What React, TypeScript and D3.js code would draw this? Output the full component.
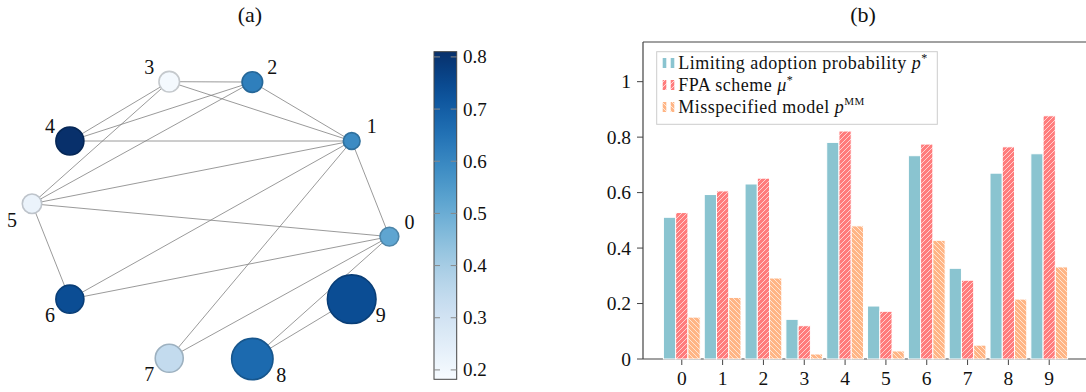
import React from 'react';
import * as d3 from 'd3';

// ---------- Panel (a): network ----------
const nodeIds = [0, 1, 2, 3, 4, 5, 6, 7, 8, 9];
const layoutX = [1.0, 0.789, 0.233, -0.232, -0.788, -1.0, -0.788, -0.232, 0.233, 0.789];
const layoutY = [-0.093, 0.442, 0.772, 0.774, 0.442, 0.091, -0.443, -0.774, -0.778, -0.443];
const nodeValue = [0.52, 0.59, 0.62, 0.19, 0.81, 0.22, 0.74, 0.34, 0.67, 0.74];
const nodeSize = [88, 70, 106, 106, 196, 94, 196, 196, 428, 590];
const edges: [number, number][] = [
  [3, 2], [3, 1], [2, 1], [3, 4], [3, 5], [2, 4], [2, 5], [4, 1], [5, 1],
  [5, 0], [5, 6], [1, 0], [1, 6], [1, 7], [0, 6], [0, 7], [0, 8], [9, 8],
];
const cbarDomain = [0.182, 0.81];
const cbarTicks = [0.2, 0.3, 0.4, 0.5, 0.6, 0.7, 0.8];

// ---------- Panel (b): bars ----------
const categories = [0, 1, 2, 3, 4, 5, 6, 7, 8, 9];
const pStar = [0.511, 0.593, 0.631, 0.143, 0.781, 0.191, 0.733, 0.327, 0.670, 0.740];
const muStar = [0.528, 0.606, 0.652, 0.120, 0.822, 0.172, 0.775, 0.284, 0.765, 0.877];
const pMM = [0.151, 0.222, 0.292, 0.018, 0.480, 0.029, 0.428, 0.050, 0.216, 0.332];
const yTicks = [0, 0.2, 0.4, 0.6, 0.8, 1];
const yTickLabels = ['0', '0.2', '0.4', '0.6', '0.8', '1'];

const FONT = '"Liberation Serif", "DejaVu Serif", serif';
const AX = '#444';

export default function App() {
  // network scales
  const nx = d3.scaleLinear().domain([-1, 1]).range([32, 389.4]);
  const ny = d3.scaleLinear().domain([-1, 1]).range([398.7, 41.3]);
  const rScale = d3.scaleSqrt().domain([0, 590]).range([0, 24.3]);
  const color = d3.scaleSequential(d3.interpolateBlues).domain(cbarDomain);

  // colorbar
  const cbX0 = 434, cbX1 = 456.7;
  const cbY = d3.scaleLinear().domain(cbarDomain).range([379.3, 51.7]);
  const gradStops = d3.range(0, 1.0001, 0.05);

  // bar scales
  const x = d3.scaleLinear().domain([-0.95, 9.95]).range([643, 1088]);
  const y = d3.scaleLinear().domain([0, 1.143]).range([359, 42]);
  const bw = x(0.3) - x(0);
  const series = [
    { name: 'p', values: pStar, fill: '#8ac4d0', off: -0.3 },
    { name: 'mu', values: muStar, fill: 'url(#hatchFwd)', off: 0 },
    { name: 'mm', values: pMM, fill: 'url(#hatchBack)', off: 0.3 },
  ];

  return (
    <svg width={1086} height={392} style={{ position: 'absolute', left: 0, top: 0 }} fontFamily={FONT}>
      <defs>
        <pattern id="hatchFwd" patternUnits="userSpaceOnUse" width={5} height={5}>
          <rect width={5} height={5} fill="#ff7c7c" />
          <path d="M-1,1 l2,-2 M0,5 l5,-5 M4,6 l2,-2" stroke="#fff" strokeWidth={0.65} />
        </pattern>
        <pattern id="hatchBack" patternUnits="userSpaceOnUse" width={5} height={5}>
          <rect width={5} height={5} fill="#ffb585" />
          <path d="M-1,4 l2,2 M0,0 l5,5 M4,-1 l2,2" stroke="#fff" strokeWidth={0.65} />
        </pattern>
        <linearGradient id="cbar" x1="0" y1="1" x2="0" y2="0">
          {gradStops.map((t) => (
            <stop key={t} offset={t} stopColor={d3.interpolateBlues(t)} />
          ))}
        </linearGradient>
      </defs>

      {/* titles */}
      <text x={250} y={22} fontSize={22} textAnchor="middle" fill="#111">(a)</text>
      <text x={863} y={22} fontSize={22} textAnchor="middle" fill="#111">(b)</text>

      {/* network edges */}
      <g stroke="#808080" strokeWidth={0.8}>
        {edges.map(([a, b], i) => (
          <line key={i} x1={nx(layoutX[a])} y1={ny(layoutY[a])} x2={nx(layoutX[b])} y2={ny(layoutY[b])} />
        ))}
      </g>
      {/* nodes */}
      <g>
        {nodeIds.map((id) => {
          const fill = color(nodeValue[id]);
          return (
            <circle key={id} cx={nx(layoutX[id])} cy={ny(layoutY[id])} r={rScale(nodeSize[id])}
              fill={fill} stroke={d3.color(fill)!.darker(0.6).formatHex()} strokeWidth={1.6} />
          );
        })}
      </g>
      {/* node labels */}
      <g fontSize={20} fill="#111" textAnchor="middle" dominantBaseline="central">
        {nodeIds.map((id) => {
          const r = rScale(nodeSize[id]);
          const dx = (layoutX[id] > 0 ? 1 : -1) * (r > 18 ? 29 : 20);
          const dy = id < 5 ? -15 : 16;
          return (
            <text key={id} x={nx(layoutX[id]) + dx} y={ny(layoutY[id]) + dy}>{id}</text>
          );
        })}
      </g>

      {/* colorbar */}
      <rect x={cbX0} y={cbY(cbarDomain[1])} width={cbX1 - cbX0} height={cbY(cbarDomain[0]) - cbY(cbarDomain[1])}
        fill="url(#cbar)" stroke={AX} strokeWidth={1} />
      <g stroke="#888" strokeWidth={1}>
        {cbarTicks.map((t) => (
          <g key={t}>
            <line x1={cbX0} x2={cbX0 + 6} y1={cbY(t)} y2={cbY(t)} />
            <line x1={cbX1 - 6} x2={cbX1} y1={cbY(t)} y2={cbY(t)} />
          </g>
        ))}
      </g>
      <g fontSize={19} fill="#111" dominantBaseline="central">
        {cbarTicks.map((t) => (
          <text key={t} x={463} y={cbY(t)}>{d3.format('.1f')(t)}</text>
        ))}
      </g>

      {/* bar chart axes */}
      <g stroke={AX} strokeWidth={1.2} fill="none">
        <line x1={643} x2={1086} y1={42} y2={42} />
        <line x1={643} x2={643} y1={42} y2={359} />
        <line x1={643} x2={1086} y1={359} y2={359} />
      </g>
      <g stroke={AX} strokeWidth={1}>
        {yTicks.map((t) => (
          <line key={t} x1={637} x2={643} y1={y(t)} y2={y(t)} />
        ))}
        {categories.map((c) => (
          <line key={c} x1={x(c)} x2={x(c)} y1={359} y2={365} />
        ))}
      </g>
      <g fontSize={19.5} fill="#111" textAnchor="end" dominantBaseline="central">
        {yTicks.map((t, i) => (
          <text key={t} x={631} y={y(t)}>{yTickLabels[i]}</text>
        ))}
      </g>
      <g fontSize={19.5} fill="#111" textAnchor="middle" dominantBaseline="central">
        {categories.map((c) => (
          <text key={c} x={x(c)} y={378}>{c}</text>
        ))}
      </g>

      {/* bars */}
      {series.map((s) => (
        <g key={s.name}>
          {categories.map((c, i) => (
            <rect key={c} x={x(c + s.off) - bw / 2} y={y(s.values[i])} width={bw}
              height={y(0) - y(s.values[i])} fill={s.fill} stroke="#fff" strokeWidth={1} />
          ))}
        </g>
      ))}

      {/* legend */}
      <rect x={656.7} y={51.7} width={280.6} height={72.6} fill="#fff" fillOpacity={0.85} stroke="#ccc" strokeWidth={1} />
      {series.map((s, i) => {
        const cy = 63 + i * 22;
        return (
          <g key={s.name}>
            <rect x={662.7} y={cy - 5} width={3.6} height={10} fill={s.fill} />
            <rect x={670.7} y={cy - 5} width={3.6} height={10} fill={s.fill} />
          </g>
        );
      })}
      <g fontSize={18} fill="#111" letterSpacing={0.5}>
        <text x={678.3} y={69}>
          Limiting adoption probability <tspan fontStyle="italic">p</tspan>
          <tspan fontSize={12} dy={-7}>*</tspan>
        </text>
        <text x={678.3} y={91}>
          FPA scheme <tspan fontStyle="italic">μ</tspan>
          <tspan fontSize={12} dy={-7}>*</tspan>
        </text>
        <text x={678.3} y={113}>
          Misspecified model <tspan fontStyle="italic">p</tspan>
          <tspan fontSize={11} dy={-8}>MM</tspan>
        </text>
      </g>
    </svg>
  );
}
